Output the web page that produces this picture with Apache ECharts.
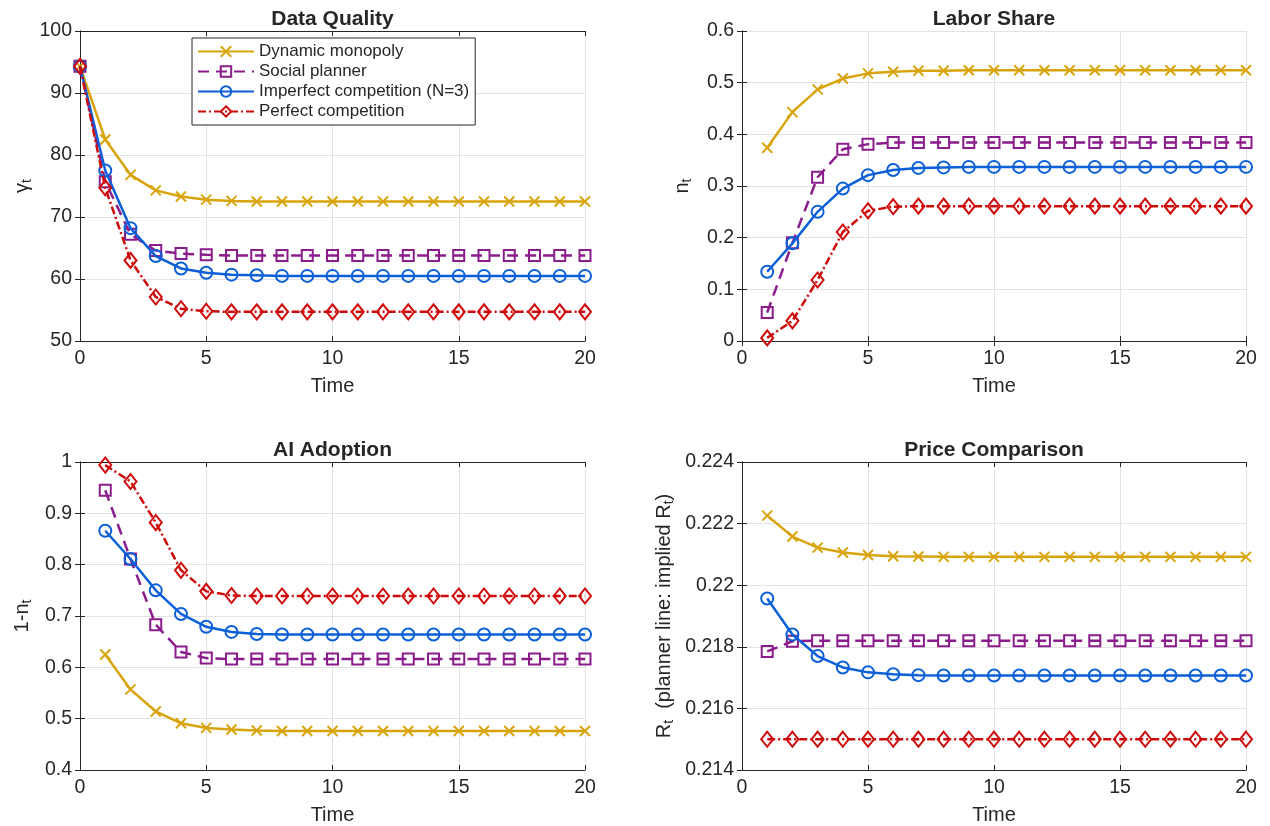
<!DOCTYPE html>
<html>
<head>
<meta charset="utf-8">
<script src="https://cdn.jsdelivr.net/npm/echarts@6/dist/echarts.min.js"></script>
<style>
  html, body { margin: 0; padding: 0; background: #fff; }
  #chart { width: 1270px; height: 826px; }
</style>
</head>
<body>
<div id="chart"></div>
<script>
// Time grids
const timeFrom0 = [0, 1, 2, 3, 4, 5, 6, 7, 8, 9, 10, 11, 12, 13, 14, 15, 16, 17, 18, 19, 20];
const timeFrom1 = [1, 2, 3, 4, 5, 6, 7, 8, 9, 10, 11, 12, 13, 14, 15, 16, 17, 18, 19, 20];

// Data quality (gamma_t), t = 0..20
const dqMonopoly  = [94.3, 82.5, 76.8, 74.3, 73.3, 72.8, 72.6, 72.5, 72.5, 72.5, 72.5, 72.5, 72.5, 72.5, 72.5, 72.5, 72.5, 72.5, 72.5, 72.5, 72.5];
const dqPlanner   = [94.3, 75.7, 67.2, 64.6, 64.1, 63.9, 63.8, 63.8, 63.8, 63.8, 63.8, 63.8, 63.8, 63.8, 63.8, 63.8, 63.8, 63.8, 63.8, 63.8, 63.8];
const dqImperfect = [94.3, 77.5, 68.2, 63.7, 61.7, 61.0, 60.7, 60.6, 60.5, 60.5, 60.5, 60.5, 60.5, 60.5, 60.5, 60.5, 60.5, 60.5, 60.5, 60.5, 60.5];
const dqPerfect   = [94.3, 74.7, 63.0, 57.1, 55.2, 54.8, 54.7, 54.7, 54.7, 54.7, 54.7, 54.7, 54.7, 54.7, 54.7, 54.7, 54.7, 54.7, 54.7, 54.7, 54.7];

// Labor share (n_t), t = 1..20
const lsMonopoly  = [0.374, 0.443, 0.487, 0.508, 0.518, 0.521, 0.523, 0.523, 0.524, 0.524, 0.524, 0.524, 0.524, 0.524, 0.524, 0.524, 0.524, 0.524, 0.524, 0.524];
const lsPlanner   = [0.055, 0.190, 0.317, 0.371, 0.381, 0.384, 0.384, 0.384, 0.384, 0.384, 0.384, 0.384, 0.384, 0.384, 0.384, 0.384, 0.384, 0.384, 0.384, 0.384];
const lsImperfect = [0.134, 0.189, 0.250, 0.295, 0.321, 0.331, 0.335, 0.336, 0.337, 0.337, 0.337, 0.337, 0.337, 0.337, 0.337, 0.337, 0.337, 0.337, 0.337, 0.337];
const lsPerfect   = [0.006, 0.039, 0.118, 0.211, 0.252, 0.260, 0.261, 0.261, 0.261, 0.261, 0.261, 0.261, 0.261, 0.261, 0.261, 0.261, 0.261, 0.261, 0.261, 0.261];

// AI adoption (1 - n_t), t = 1..20
const aiMonopoly  = [0.625, 0.557, 0.514, 0.491, 0.482, 0.479, 0.477, 0.476, 0.476, 0.476, 0.476, 0.476, 0.476, 0.476, 0.476, 0.476, 0.476, 0.476, 0.476, 0.476];
const aiPlanner   = [0.945, 0.811, 0.683, 0.630, 0.618, 0.616, 0.616, 0.616, 0.616, 0.616, 0.616, 0.616, 0.616, 0.616, 0.616, 0.616, 0.616, 0.616, 0.616, 0.616];
const aiImperfect = [0.866, 0.811, 0.750, 0.704, 0.679, 0.669, 0.665, 0.664, 0.664, 0.664, 0.664, 0.664, 0.664, 0.664, 0.664, 0.664, 0.664, 0.664, 0.664, 0.664];
const aiPerfect   = [0.994, 0.962, 0.882, 0.789, 0.748, 0.740, 0.739, 0.739, 0.739, 0.739, 0.739, 0.739, 0.739, 0.739, 0.739, 0.739, 0.739, 0.739, 0.739, 0.739];

// Price R_t, t = 1..20
const prMonopoly  = [0.22226, 0.22158, 0.22122, 0.22106, 0.22098, 0.22094, 0.22093, 0.22092, 0.22092, 0.22092, 0.22092, 0.22092, 0.22092, 0.22092, 0.22092, 0.22092, 0.22092, 0.22092, 0.22092, 0.22092];
const prPlanner   = [0.21785, 0.21818, 0.21820, 0.21820, 0.21820, 0.21820, 0.21820, 0.21820, 0.21820, 0.21820, 0.21820, 0.21820, 0.21820, 0.21820, 0.21820, 0.21820, 0.21820, 0.21820, 0.21820, 0.21820];
const prImperfect = [0.21957, 0.21840, 0.21770, 0.21733, 0.21717, 0.21711, 0.21708, 0.21707, 0.21707, 0.21707, 0.21707, 0.21707, 0.21707, 0.21707, 0.21707, 0.21707, 0.21707, 0.21707, 0.21707, 0.21707];
const prPerfect   = [0.2150, 0.2150, 0.2150, 0.2150, 0.2150, 0.2150, 0.2150, 0.2150, 0.2150, 0.2150, 0.2150, 0.2150, 0.2150, 0.2150, 0.2150, 0.2150, 0.2150, 0.2150, 0.2150, 0.2150];

const seriesNames = ['Dynamic monopoly', 'Social planner', 'Imperfect competition (N=3)', 'Perfect competition'];
const panelTitles = ['Data Quality', 'Labor Share', 'AI Adoption', 'Price Comparison'];

const FONT = '"Liberation Sans", Arial, Helvetica, sans-serif';
const INK = '#262626';
const GRIDLINE = '#e3e3e3';

// Line and marker styling per policy regime
const styles = [
  { color: '#D9A40B', type: 'solid', symbol: 'path://M0 0L10 10M10 0L0 10', size: 10 },
  { color: '#8A1C8C', type: [11, 7], symbol: 'rect', size: 11 },
  { color: '#0B5FD8', type: 'solid', symbol: 'circle', size: 12 },
  { color: '#CE0A0A', type: [8, 3, 2, 3], symbol: 'diamond', size: [12, 15] }
];

// Plot-area placement of the 2x2 panels
const grids = [
  { left: 80,  top: 31,  width: 505, height: 310 },
  { left: 742, top: 31,  width: 504, height: 310 },
  { left: 80,  top: 462, width: 505, height: 310 },
  { left: 742, top: 462, width: 504, height: 310 }
];

const yRanges = [
  { min: 50, max: 100, interval: 10 },
  { min: 0, max: 0.6, interval: 0.1 },
  { min: 0.4, max: 1, interval: 0.1 },
  { min: 0.214, max: 0.224, interval: 0.002 }
];

const yNames = [
  '{m|γ}{s|t}',
  '{m|n}{s|t}',
  '{m|1-n}{s|t}',
  '{m|R}{s|t}{m|  (planner line: implied R}{s|t}{m|)}'
];
const yNameGaps = [46, 48, 46, 66];

const panelData = [
  { t: timeFrom0, ys: [dqMonopoly, dqPlanner, dqImperfect, dqPerfect] },
  { t: timeFrom1, ys: [lsMonopoly, lsPlanner, lsImperfect, lsPerfect] },
  { t: timeFrom1, ys: [aiMonopoly, aiPlanner, aiImperfect, aiPerfect] },
  { t: timeFrom1, ys: [prMonopoly, prPlanner, prImperfect, prPerfect] }
];

const fmt = v => String(Number(v.toFixed(4)));

const xAxes = [], yAxes = [], series = [], titles = [];
grids.forEach((g, i) => {
  // primary bottom axis
  xAxes.push({
    type: 'value', gridIndex: i, min: 0, max: 20, interval: 5,
    name: 'Time', nameLocation: 'middle', nameGap: 35,
    nameTextStyle: { fontFamily: FONT, fontSize: 20, color: INK },
    axisLine: { show: true, lineStyle: { color: INK, width: 1 } },
    axisTick: { show: true, inside: true, length: 5, lineStyle: { color: INK } },
    axisLabel: { fontFamily: FONT, fontSize: 19.5, color: INK, margin: 8, formatter: fmt },
    splitLine: { show: true, lineStyle: { color: GRIDLINE, width: 1 } }
  });
  // mirrored top axis (ticks only)
  xAxes.push({
    type: 'value', gridIndex: i, position: 'top', min: 0, max: 20, interval: 5,
    axisLine: { show: true, lineStyle: { color: INK, width: 1 } },
    axisTick: { show: true, inside: true, length: 5, lineStyle: { color: INK } },
    axisLabel: { show: false }, splitLine: { show: false }
  });
  const r = yRanges[i];
  yAxes.push({
    type: 'value', gridIndex: i, min: r.min, max: r.max, interval: r.interval,
    name: yNames[i], nameLocation: 'middle', nameGap: yNameGaps[i], nameRotate: 90,
    nameTextStyle: {
      fontFamily: FONT, color: INK,
      rich: {
        m: { fontFamily: FONT, fontSize: 20, color: INK },
        s: { fontFamily: FONT, fontSize: 14, color: INK, padding: [10, 0, 0, 0] }
      }
    },
    axisLine: { show: true, lineStyle: { color: INK, width: 1 } },
    axisTick: { show: true, inside: true, length: 5, lineStyle: { color: INK } },
    axisLabel: { fontFamily: FONT, fontSize: 19.5, color: INK, margin: 8, formatter: fmt },
    splitLine: { show: true, lineStyle: { color: GRIDLINE, width: 1 } }
  });
  // mirrored right axis (ticks only)
  yAxes.push({
    type: 'value', gridIndex: i, position: 'right', min: r.min, max: r.max, interval: r.interval,
    axisLine: { show: true, lineStyle: { color: INK, width: 1 } },
    axisTick: { show: true, inside: true, length: 5, lineStyle: { color: INK } },
    axisLabel: { show: false }, splitLine: { show: false }
  });

  titles.push({
    text: panelTitles[i],
    left: g.left + g.width / 2, top: g.top - 22, textAlign: 'center', padding: 0,
    textStyle: { fontFamily: FONT, fontSize: 21, fontWeight: 'bold', color: INK }
  });

  const pd = panelData[i];
  pd.ys.forEach((vals, k) => {
    const st = styles[k];
    series.push({
      name: seriesNames[k],
      type: 'line',
      xAxisIndex: i * 2, yAxisIndex: i * 2,
      data: pd.t.map((t, j) => [t, vals[j]]),
      symbol: st.symbol, symbolSize: st.size, showAllSymbol: true,
      lineStyle: { color: st.color, width: 2.5, type: st.type },
      itemStyle: { color: 'rgba(255,255,255,0)', borderColor: st.color, borderWidth: 2 },
      emphasis: { disabled: true },
      animation: false,
      z: 2 + k
    });
  });
});

const chart = echarts.init(document.getElementById('chart'), null, { renderer: 'canvas' });
chart.setOption({
  backgroundColor: '#ffffff',
  animation: false,
  title: titles,
  grid: grids.map(g => Object.assign({ containLabel: false }, g)),
  xAxis: xAxes,
  yAxis: yAxes,
  legend: {
    data: seriesNames,
    orient: 'vertical',
    left: 192, top: 38,
    backgroundColor: '#ffffff',
    borderColor: INK, borderWidth: 1,
    padding: [5, 6, 5, 5],
    itemWidth: 56, itemHeight: 13, itemGap: 3,
    textStyle: { fontFamily: FONT, fontSize: 17, color: INK, lineHeight: 16 },
    selectedMode: false
  },
  series: series
});
</script>
</body>
</html>
